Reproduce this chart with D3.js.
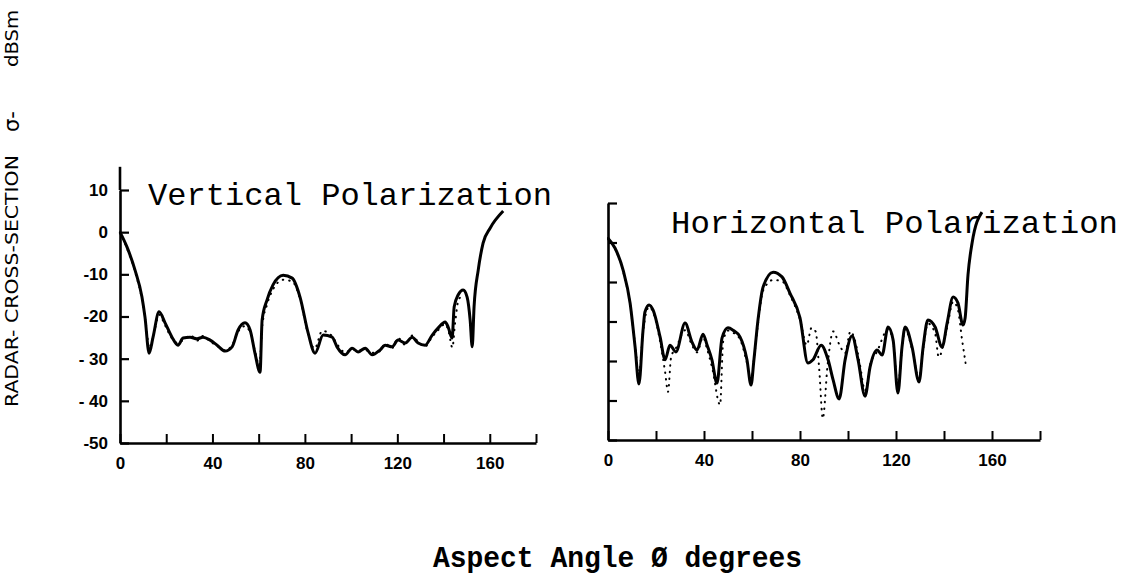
<!DOCTYPE html>
<html>
<head>
<meta charset="utf-8">
<script src="https://cdn.jsdelivr.net/npm/d3@7"></script>
<style>
  body { margin: 0; background: #fff; }
  svg { display: block; }
  .axis path, .axis line { stroke: #000; }
  .axis text { font-family: "Liberation Sans", Arial, sans-serif; font-weight: bold; font-size: 17px; fill: #000; }
</style>
</head>
<body>
<div id="chart"></div>
<script>
// angle ticks / labels (degrees) and dB ticks
const angleTicks = [0, 20, 40, 60, 80, 100, 120, 140, 160, 180];
const angleLabels = [0, 40, 80, 120, 160];
const dbTicks = [10, 0, -10, -20, -30, -40, -50];
const dbLabels = ["10", "0", "-10", "-20", "- 30", "- 40", "-50"];

// vertical polarization, [aspect angle, dBsm]
const vertSolid = [
  [0,0],[3,-3.5],[6.5,-9],[9.5,-15.4],[10.8,-20.1],[12.6,-28.7],[14.3,-24.9],[16.9,-18.9],
  [19.5,-21.5],[22.5,-24.9],[25.1,-26.8],[27.3,-25.1],[30.3,-24.9],[33.3,-25.3],[35.9,-24.9],
  [39,-25.6],[42,-26.8],[45.5,-28.2],[48.5,-27.2],[51.1,-23.2],[54.1,-21.5],[56.3,-23.2],
  [58.4,-28.7],[60.6,-33.2],[61.5,-20.8],[63.6,-16.1],[66.2,-12.5],[70.6,-10.2],[74.5,-10.9],
  [77.9,-15.4],[81.4,-23.9],[84.4,-28.7],[87.9,-24.4],[91.8,-24.9],[93.9,-27.2],[97.4,-29.1],
  [100.4,-27.5],[103,-28.4],[106.1,-27.5],[109.1,-29.1],[112.6,-27.9],[114.7,-26.8],[117.7,-27.2],
  [120.3,-25.6],[123.4,-26.3],[126.4,-24.9],[129,-26.3],[132,-26.8],[135.1,-24.4],[137.7,-22.7],
  [140.7,-21.3],[142,-22.5],[143.7,-25.1],[144.6,-17.7],[146.3,-14.9],[148.5,-13.7],[150.2,-15.4],
  [151.5,-20.8],[152.4,-27.2],[153.2,-17.7],[155,-9],[157.1,-2.6],[160.2,1],[165.8,5]
];
const vertDotted = [
  [0,0],[3,-3.8],[6.5,-9.4],[9.5,-15.9],[11,-21],[12.8,-27.6],[14.5,-24.4],[17,-19.6],
  [19.5,-22.1],[22.5,-25.2],[25,-26.3],[27.5,-25.5],[30.5,-24.5],[33.5,-25.7],[36,-24.6],
  [39,-25.9],[42,-27],[45.5,-28],[48.5,-26.8],[51,-23.7],[54,-22.3],[56.5,-24],[58.5,-28.4],
  [60.3,-31.6],[61.6,-22],[63.6,-17.2],[66.2,-13.6],[70.6,-11.3],[74.5,-11.7],[78,-16],
  [81.4,-24.2],[84.2,-27.6],[87.5,-23.4],[91.5,-24.5],[94,-26.6],[97.4,-28.5],[100.4,-27.8],
  [103,-28],[106,-27.9],[109,-28.6],[112.6,-28.2],[114.7,-26.4],[117.7,-27.5],[120.3,-25.1],
  [123.4,-26.7],[126.4,-24.5],[129,-26],[132,-27.1],[135,-24.9],[137.7,-23.2],[140.7,-21.8],
  [142.3,-23.8],[143.8,-27.4],[145,-21.5],[146.5,-16],[148.5,-15]
];

// horizontal polarization, [aspect angle, dBsm]
const horizSolid = [
  [0,1.1],[2.9,-1.4],[6.3,-7],[9.2,-15.3],[11.3,-26.5],[12.9,-35.8],[14.6,-22.2],[15.4,-17.6],
  [17.1,-15.8],[18.8,-17.1],[21.7,-23.9],[23.8,-29.7],[25.8,-26],[28.3,-27.7],[32.1,-20.4],
  [35,-25.2],[37.1,-27.2],[39.6,-23.2],[41.3,-26],[43.3,-29.7],[45.4,-35.6],[47.5,-24.2],
  [50,-21.6],[52.1,-22.2],[55,-23.9],[57.9,-29.7],[59.6,-36.1],[60.8,-29.7],[62.5,-19.6],
  [64.6,-11.3],[68.8,-7.5],[72.5,-8.7],[75.8,-12.8],[80,-19.1],[83.3,-30.5],[85.4,-29.7],
  [88.8,-26],[91.7,-29.7],[93.8,-34.8],[96.3,-39.6],[98.8,-29.7],[101.7,-23.7],[104.2,-29.7],
  [107.1,-38.9],[109.2,-31.5],[112.1,-27.2],[114.2,-28.5],[116.7,-21.4],[118.8,-24.7],
  [120.8,-38.1],[122.5,-26.5],[123.8,-21.4],[126.7,-26.5],[129.6,-35.3],[131.3,-26.5],
  [133.3,-19.6],[136.3,-21.4],[139.2,-26.5],[141.3,-20.4],[143.8,-13.8],[145.8,-15.3],
  [147.9,-20.9],[148.8,-19.1],[150,-8.2],[151.7,-0.1],[155.8,7.7]
];
const horizDotted = [
  [0,1.1],[2.9,-1.6],[6.3,-7.3],[9.2,-15.6],[11.3,-26],[12.9,-33.5],[14.6,-22.6],[17.1,-16.3],
  [18.8,-17.6],[21.7,-25],[23.8,-32.8],[25,-37.8],[26.3,-29],[28.5,-26.5],[32.1,-22.2],
  [35,-26],[37.1,-27.8],[39.6,-24],[41.3,-27],[43.5,-32],[46.7,-41.1],[48,-25],[50,-22.3],
  [52.1,-22.8],[55,-24.5],[57.9,-30.5],[59.6,-35],[60.8,-29.5],[62.5,-20.5],[64.6,-12.2],
  [68.8,-9.5],[72.5,-9.8],[75.8,-13.3],[80,-19.5],[82.8,-26],[84.8,-21.6],[86.5,-22.5],
  [88,-32],[89.5,-44.5],[91.5,-31],[93.8,-22.5],[96.5,-26],[98.8,-28],[101,-22.5],
  [103,-25],[105,-31],[107.1,-37.5],[109.2,-31],[112.1,-27.6],[116.7,-22],[118.8,-25],
  [120.8,-36.5],[122.5,-27],[123.8,-22],[126.7,-27],[129.6,-34.5],[131.3,-27],[133.3,-20.5],
  [136.3,-23],[137.8,-29],[141.3,-21.5],[143.8,-15],[145.8,-17],[147.5,-24.5],[149,-30.5]
];

const W = 1124, H = 581;
const svg = d3.select("#chart").append("svg").attr("width", W).attr("height", H);

// left panel scales
const xL = d3.scaleLinear().domain([0, 180]).range([120, 536]);
const yL = d3.scaleLinear().domain([-50, 10]).range([443, 190]);
// right panel scales
const xR = d3.scaleLinear().domain([0, 180]).range([608, 1040]);
const yR = d3.scaleLinear().domain([-50, 10]).range([440, 203]);

function drawPanel(x, y, solid, dotted, showYLabels, yTop) {
  const g = svg.append("g");

  // x axis, ticks pointing up
  const xa = g.append("g").attr("class", "axis")
    .attr("transform", "translate(0," + y(-50) + ")")
    .call(d3.axisBottom(x).tickValues(angleTicks).tickSizeInner(-9).tickSizeOuter(0).tickPadding(14)
      .tickFormat(d => angleLabels.includes(d) ? d : ""));
  xa.select(".domain").attr("stroke-width", 2.6);
  xa.selectAll(".tick line").attr("stroke-width", 2);

  // y axis, ticks pointing right
  const ya = g.append("g").attr("class", "axis")
    .attr("transform", "translate(" + x(0) + ",0)")
    .call(d3.axisLeft(y).tickValues(dbTicks).tickSizeInner(-9).tickSizeOuter(0).tickPadding(12)
      .tickFormat((d, i) => showYLabels ? dbLabels[i] : ""));
  ya.select(".domain").attr("stroke-width", 2.6);
  ya.selectAll(".tick line").attr("stroke-width", 2.2);
  g.append("line")
    .attr("x1", x(0)).attr("x2", x(0))
    .attr("y1", y(10)).attr("y2", y(yTop))
    .attr("stroke", "#000").attr("stroke-width", 2.6);

  const line = d3.line()
    .x(d => x(d[0])).y(d => y(d[1]))
    .curve(d3.curveMonotoneX);

  g.append("path").datum(dotted)
    .attr("d", line).attr("fill", "none")
    .attr("stroke", "#000").attr("stroke-width", 2)
    .attr("stroke-linecap", "round")
    .attr("stroke-dasharray", "0.5,6");

  g.append("path").datum(solid)
    .attr("d", line).attr("fill", "none")
    .attr("stroke", "#000").attr("stroke-width", 3)
    .attr("stroke-linejoin", "round");
}

drawPanel(xL, yL, vertSolid, vertDotted, true, 15.5);
drawPanel(xR, yR, horizSolid, horizDotted, false, 10);

// titles
const mono = "'Liberation Mono', 'Courier New', monospace";
svg.append("text")
  .attr("x", 148).attr("y", 205)
  .attr("font-family", mono).attr("font-size", 32)
  .attr("textLength", 404).attr("lengthAdjust", "spacingAndGlyphs")
  .text("Vertical Polarization");
svg.append("text")
  .attr("x", 671).attr("y", 233)
  .attr("font-family", mono).attr("font-size", 32)
  .attr("textLength", 447).attr("lengthAdjust", "spacingAndGlyphs")
  .text("Horizontal Polarization");
svg.append("text")
  .attr("x", 433).attr("y", 567)
  .attr("font-family", mono).attr("font-size", 29).attr("font-weight", "bold")
  .attr("textLength", 369).attr("lengthAdjust", "spacingAndGlyphs")
  .text("Aspect Angle Ø degrees");

// rotated y label
const sans = "'DejaVu Sans', 'Liberation Sans', sans-serif";
const yl = svg.append("g").attr("font-family", sans).attr("font-size", 17);
yl.append("text")
  .attr("transform", "translate(18,407) rotate(-90)")
  .attr("textLength", 252).attr("lengthAdjust", "spacingAndGlyphs")
  .text("RADAR- CROSS-SECTION");
yl.append("text")
  .attr("transform", "translate(19,132) rotate(-90)")
  .attr("font-size", 21)
  .text("σ-");
yl.append("text")
  .attr("transform", "translate(18,67) rotate(-90)")
  .attr("textLength", 57).attr("lengthAdjust", "spacingAndGlyphs")
  .text("dBSm");
</script>
</body>
</html>
